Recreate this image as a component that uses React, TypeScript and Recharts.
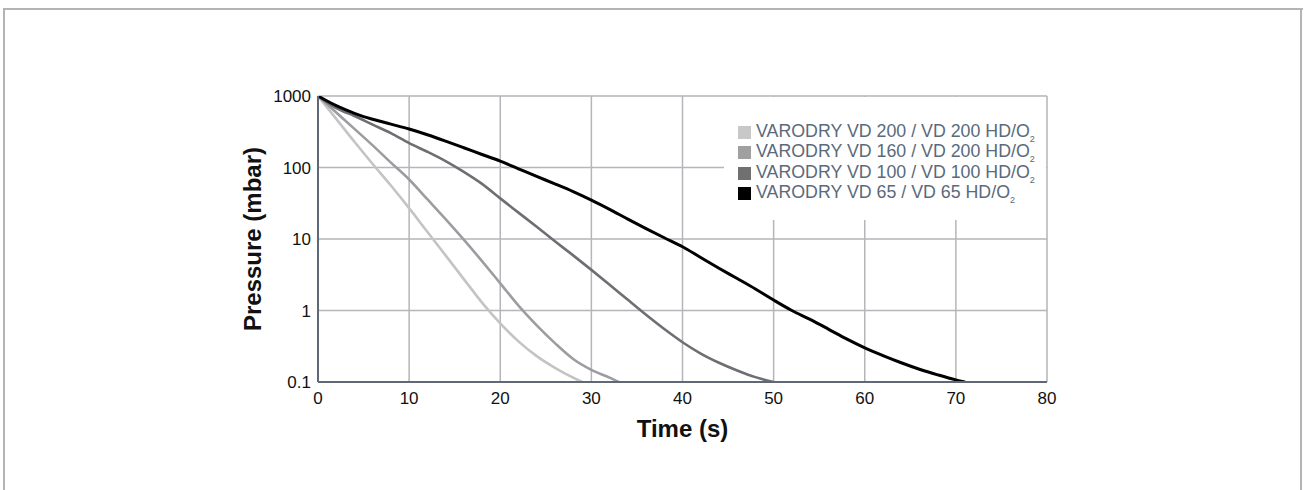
import { LineChart, Line, XAxis, YAxis, CartesianGrid, Legend } from 'recharts'

// pump-down curves: time in s, pressure in mbar
const vd200Time = [0, 2, 4, 6, 8, 10, 12, 14, 16, 18, 20, 22, 24, 26, 28, 29]
const vd200Pressure = [1000, 479, 229, 112, 56, 27, 12.6, 5.9, 2.75, 1.29, 0.66, 0.37, 0.23, 0.158, 0.115, 0.1]

const vd160Time = [0, 2, 4, 6, 8, 10, 12, 14, 16, 18, 20, 22, 24, 26, 28, 30, 32, 33]
const vd160Pressure = [1000, 589, 347, 204, 117, 68, 36, 19, 9.8, 4.9, 2.4, 1.17, 0.62, 0.35, 0.21, 0.148, 0.115, 0.1]

const vd100Time = [0, 2, 4, 6, 8, 10, 12, 14, 16, 18, 20, 22, 24, 26, 28, 30, 32, 34, 36, 38, 40, 42, 44, 46, 48, 50]
const vd100Pressure = [
  1000, 676, 525, 398, 302, 219, 166, 123, 87, 59, 37, 23.4, 14.8, 9.3, 5.9, 3.7, 2.3, 1.41, 0.87, 0.55, 0.36,
  0.25, 0.186, 0.145, 0.117, 0.1,
]

const vd65Time = [
  0, 1, 2, 3, 4, 5, 6, 8, 10, 12, 14, 16, 18, 20, 22, 24, 26, 28, 30, 32, 34, 36, 38, 40, 42, 44, 46, 48, 50,
  52, 54, 56, 58, 60, 62, 64, 66, 68, 70, 71,
]
const vd65Pressure = [
  1000, 850, 732, 643, 571, 515, 474, 404, 345, 287, 234, 189, 152, 123, 96, 75, 59, 46, 35, 26, 19, 14, 10.4,
  7.8, 5.5, 3.9, 2.8, 2.0, 1.4, 1.0, 0.75, 0.55, 0.4, 0.3, 0.234, 0.186, 0.151, 0.126, 0.107, 0.1,
]

const seriesNames = [
  'VARODRY VD 200 / VD 200 HD/O',
  'VARODRY VD 160 / VD 200 HD/O',
  'VARODRY VD 100 / VD 100 HD/O',
  'VARODRY VD 65 / VD 65 HD/O',
]
const seriesColors = ['#c4c4c4', '#9d9da1', '#6e6e73', '#000000']
const legendColors = ['#c8c8c8', '#a0a0a0', '#707070', '#000000']

const xTicks = [0, 10, 20, 30, 40, 50, 60, 70, 80]
const yTicks = [0.1, 1, 10, 100, 1000]

const toPoints = (time: number[], pressure: number[]) => time.map((t, i) => ({ t, p: pressure[i] }))

const series = [
  toPoints(vd200Time, vd200Pressure),
  toPoints(vd160Time, vd160Pressure),
  toPoints(vd100Time, vd100Pressure),
  toPoints(vd65Time, vd65Pressure),
]

const FONT = 'Arial, "Liberation Sans", Helvetica, sans-serif'
const FRAME = '#b4b4b4'

function LegendBox() {
  return (
    <div style={{ background: '#fff', paddingTop: 25, paddingLeft: 14, fontFamily: FONT, fontSize: 17.8, color: '#5a6a7b' }}>
      {seriesNames.map((name, i) => (
        <div key={name} style={{ display: 'flex', alignItems: 'center', height: 20.5, lineHeight: '20.5px', whiteSpace: 'nowrap' }}>
          <span style={{ display: 'inline-block', width: 13, height: 13, background: legendColors[i], marginRight: 5 }} />
          <span>
            {name}
            <span style={{ fontSize: 9, position: 'relative', top: 5 }}>2</span>
          </span>
        </div>
      ))}
    </div>
  )
}

export default function App() {
  return (
    <>
      <div style={{ position: 'fixed', left: 0, top: 0, width: 1304, height: 490, background: '#fff' }}>
        <LineChart width={1304} height={490} margin={{ top: 96, right: 257, bottom: 53, left: 252 }}>
          <CartesianGrid stroke="#b5b5ba" strokeWidth={1.5} />
          <XAxis
            type="number"
            dataKey="t"
            domain={[0, 80]}
            ticks={xTicks}
            height={55}
            tickLine={false}
            tickSize={0}
            tickMargin={10}
            axisLine={{ stroke: '#5f6975', strokeWidth: 2 }}
            tick={{ fill: '#111', fontSize: 17, fontFamily: FONT }}
            label={{
              value: 'Time (s)',
              position: 'insideBottom',
              offset: 0,
              style: { fontFamily: FONT, fontSize: 24, fontWeight: 'bold', fill: '#111' },
            }}
          />
          <YAxis
            type="number"
            dataKey="p"
            scale="log"
            domain={[0.1, 1000]}
            allowDataOverflow
            ticks={yTicks}
            width={66}
            tickLine={false}
            tickSize={0}
            tickMargin={7}
            axisLine={{ stroke: '#5f6975', strokeWidth: 2 }}
            tick={{ fill: '#111', fontSize: 17, fontFamily: FONT }}
            label={{
              value: 'Pressure (mbar)',
              angle: -90,
              position: 'insideLeft',
              offset: 0,
              textAnchor: 'middle',
              style: { textAnchor: 'middle', fontFamily: FONT, fontSize: 24, fontWeight: 'bold', fill: '#111' },
            }}
          />
          <Legend
            layout="vertical"
            align="center"
            verticalAlign="middle"
            content={() => <LegendBox />}
            wrapperStyle={{ left: 724, top: 97, width: 322, height: 123, background: '#fff' }}
          />
          {series.map((data, i) => (
            <Line
              key={seriesNames[i]}
              data={data}
              dataKey="p"
              name={seriesNames[i]}
              type="monotone"
              stroke={seriesColors[i]}
              strokeWidth={i === 3 ? 3 : 2.6}
              dot={false}
              activeDot={false}
              isAnimationActive={false}
            />
          ))}
        </LineChart>
      </div>
      {/* page frame: top, left and right edges */}
      <div style={{ position: 'fixed', left: 3, top: 8, width: 1300, height: 2, background: FRAME, zIndex: 5 }} />
      <div style={{ position: 'fixed', left: 3, top: 8, width: 2, height: 482, background: FRAME, zIndex: 5 }} />
      <div style={{ position: 'fixed', left: 1300, top: 8, width: 2, height: 482, background: FRAME, zIndex: 5 }} />
    </>
  )
}
